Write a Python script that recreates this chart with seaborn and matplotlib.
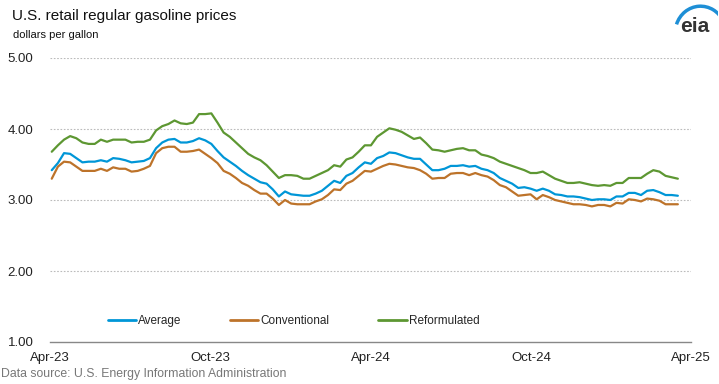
import numpy as np
import pandas as pd
import seaborn as sns
import matplotlib.pyplot as plt
import matplotlib.dates as mdates
from matplotlib.patches import Arc

# weekly prices, dollars per gallon, starting 2023-04-03
average = [
    3.42, 3.52, 3.66, 3.65, 3.59, 3.53, 3.54, 3.54, 3.56, 3.54,
    3.59, 3.58, 3.56, 3.53, 3.54, 3.55, 3.59, 3.73, 3.81, 3.85,
    3.86, 3.81, 3.81, 3.83, 3.87, 3.84, 3.79, 3.69, 3.60, 3.54,
    3.48, 3.41, 3.35, 3.30, 3.25, 3.23, 3.15, 3.05, 3.12, 3.08,
    3.07, 3.06, 3.06, 3.09, 3.13, 3.20, 3.27, 3.24, 3.34, 3.38,
    3.46, 3.53, 3.51, 3.59, 3.62, 3.67, 3.66, 3.63, 3.60, 3.58,
    3.58, 3.50, 3.42, 3.42, 3.44, 3.48, 3.48, 3.49, 3.47, 3.48,
    3.44, 3.42, 3.38, 3.31, 3.27, 3.23, 3.17, 3.18, 3.16, 3.13,
    3.16, 3.13, 3.08, 3.07, 3.05, 3.05, 3.04, 3.02, 3.00, 3.01,
    3.01, 3.00, 3.05, 3.05, 3.10, 3.10, 3.07, 3.13, 3.14, 3.11,
    3.07, 3.07, 3.06,
]
conventional = [
    3.30, 3.47, 3.54, 3.53, 3.47, 3.41, 3.41, 3.41, 3.44, 3.41,
    3.46, 3.44, 3.44, 3.40, 3.41, 3.44, 3.48, 3.66, 3.73, 3.75,
    3.75, 3.68, 3.68, 3.69, 3.71, 3.65, 3.59, 3.52, 3.41, 3.37,
    3.31, 3.24, 3.20, 3.14, 3.09, 3.09, 3.02, 2.93, 3.00, 2.95,
    2.94, 2.94, 2.94, 2.98, 3.01, 3.07, 3.15, 3.14, 3.23, 3.27,
    3.34, 3.41, 3.40, 3.44, 3.48, 3.51, 3.50, 3.48, 3.46, 3.45,
    3.42, 3.37, 3.30, 3.31, 3.31, 3.37, 3.38, 3.38, 3.35, 3.38,
    3.35, 3.33, 3.28, 3.21, 3.18, 3.12, 3.06, 3.07, 3.08, 3.01,
    3.07, 3.04, 3.00, 2.98, 2.96, 2.94, 2.94, 2.93, 2.91, 2.93,
    2.93, 2.91, 2.96, 2.95, 3.01, 3.00, 2.98, 3.02, 3.01, 2.99,
    2.94, 2.94, 2.94,
]
reformulated = [
    3.68, 3.77, 3.85, 3.90, 3.87, 3.81, 3.79, 3.79, 3.85, 3.82,
    3.85, 3.85, 3.85, 3.81, 3.82, 3.82, 3.85, 3.98, 4.04, 4.07,
    4.12, 4.08, 4.07, 4.09, 4.21, 4.21, 4.22, 4.09, 3.95, 3.89,
    3.81, 3.73, 3.65, 3.60, 3.56, 3.49, 3.40, 3.31, 3.35, 3.35,
    3.34, 3.30, 3.30, 3.34, 3.38, 3.42, 3.49, 3.47, 3.57, 3.60,
    3.68, 3.77, 3.77, 3.89, 3.95, 4.01, 3.99, 3.96, 3.91, 3.86,
    3.88, 3.80, 3.71, 3.70, 3.68, 3.70, 3.72, 3.73, 3.70, 3.70,
    3.64, 3.62, 3.59, 3.54, 3.51, 3.48, 3.45, 3.42, 3.38, 3.38,
    3.40, 3.35, 3.30, 3.27, 3.24, 3.24, 3.25, 3.23, 3.21, 3.20,
    3.21, 3.20, 3.24, 3.24, 3.31, 3.31, 3.31, 3.37, 3.42, 3.40,
    3.34, 3.32, 3.30,
]
series_names = ["Average", "Conventional", "Reformulated"]
colors = ["#0096D7", "#BD732A", "#5D9732"]
tick_dates = ["2023-04-01", "2023-10-01", "2024-04-01", "2024-10-01", "2025-04-01"]
tick_labels = ["Apr-23", "Oct-23", "Apr-24", "Oct-24", "Apr-25"]

weeks = pd.date_range("2023-04-03", periods=len(average), freq="7D")
df = pd.DataFrame({"date": weeks, "Average": average,
                   "Conventional": conventional, "Reformulated": reformulated})
long_df = df.melt(id_vars="date", var_name="series", value_name="price")

sns.set_style("white")
plt.rcParams["font.family"] = ["Liberation Sans", "DejaVu Sans"]

fig = plt.figure(figsize=(7.19, 3.84), dpi=100)
ax = fig.add_axes([50 / 719, 42 / 384, 641 / 719, 284 / 384])

sns.lineplot(data=long_df, x="date", y="price", hue="series",
             hue_order=series_names, palette=colors, linewidth=1.6, ax=ax)

ax.set_xlim(pd.Timestamp(tick_dates[0]), pd.Timestamp(tick_dates[-1]))
ax.set_ylim(1, 5)
ax.set_yticks([1, 2, 3, 4, 5])
ax.set_yticklabels([f"{v:.2f}" for v in [1, 2, 3, 4, 5]], fontsize=9.5, color="#222222")
ax.set_xticks([pd.Timestamp(d) for d in tick_dates])
ax.set_xticklabels(tick_labels, fontsize=9.5, color="#222222")
ax.set_xlabel("")
ax.set_ylabel("")

for v in [2, 3, 4, 5]:
    ax.axhline(v, color="#BBBBBB", linewidth=0.8, linestyle=(0, (1.5, 1.5)), zorder=0)

for side in ["top", "right", "left"]:
    ax.spines[side].set_visible(False)
ax.spines["bottom"].set_color("#888888")
ax.spines["bottom"].set_linewidth(1)
ax.tick_params(axis="x", direction="out", length=5, width=1, color="#888888", pad=2)
ax.tick_params(axis="y", length=0, pad=12)

leg = ax.legend(loc="center", bbox_to_anchor=(0.38, 0.075), ncol=3, frameon=False,
                fontsize=8.5, handlelength=2.4, handletextpad=0.2, columnspacing=4.1)
for line in leg.get_lines():
    line.set_linewidth(2)

fig.text(12 / 719, 1 - 16 / 384, "U.S. retail regular gasoline prices",
         fontsize=11, va="center", ha="left", color="#111111")
fig.text(13 / 719, 1 - 35 / 384, "dollars per gallon",
         fontsize=8, va="center", ha="left", color="#111111")
fig.text(1 / 719, 1 - 374 / 384, "Data source: U.S. Energy Information Administration",
         fontsize=8.8, va="center", ha="left", color="#777777")

# eia logo
fig.text(695 / 719, 1 - 27 / 384, "eia", fontsize=15, fontweight="bold",
         ha="center", va="center", color="#333333")
logo_ax = fig.add_axes([672 / 719, 1 - 30 / 384, 46 / 719, 28 / 384])
logo_ax.set_xlim(0, 1)
logo_ax.set_ylim(0, 1)
logo_ax.axis("off")
logo_ax.add_patch(Arc((0.62, -0.1), 1.1, 1.9, theta1=40, theta2=150,
                      color="#1E8FD6", linewidth=2.5))

fig.savefig("out.png", dpi=100)
